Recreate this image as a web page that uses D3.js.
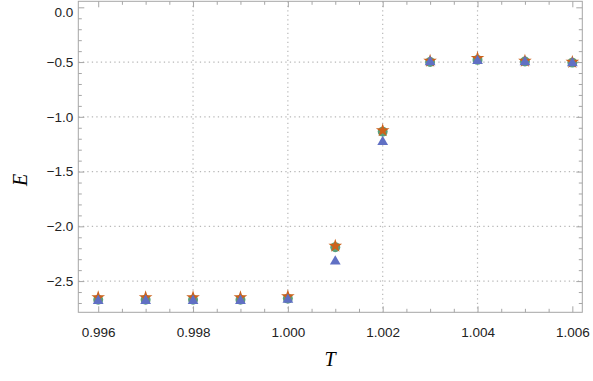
<!DOCTYPE html>
<html><head><meta charset="utf-8">
<script src="https://cdn.jsdelivr.net/npm/d3@7"></script>
<style>body{margin:0;background:#fff}svg{display:block}</style>
</head><body>
<svg id="c" width="593" height="381"></svg>
<script>
const temps = [0.996,0.997,0.998,0.999,1.000,1.001,1.002,1.003,1.004,1.005,1.006];
const circleE = [-2.67,-2.67,-2.67,-2.67,-2.66,-2.19,-1.135,-0.50,-0.48,-0.495,-0.505];
const starE   = [-2.65,-2.65,-2.65,-2.65,-2.64,-2.18,-1.125,-0.49,-0.465,-0.49,-0.50];
const triE    = [-2.68,-2.68,-2.68,-2.68,-2.67,-2.32,-1.23,-0.50,-0.49,-0.50,-0.51];
const xTicks = [0.996,0.998,1.000,1.002,1.004,1.006];
const yTicks = [0.0,-0.5,-1.0,-1.5,-2.0,-2.5];
const xGrid = [0.998,1.000,1.002,1.004];
const yGrid = [-0.5,-1.0,-1.5,-2.0,-2.5];

const svg = d3.select("#c");
const L=78.3,R=582.3,T=1.3,B=312.3;
const x = d3.scaleLinear().domain([0.99558,1.00621]).range([L,R]);
const y = d3.scaleLinear().domain([-2.785,0.055]).range([B,T]);

// grid
const g = svg.append("g");
g.selectAll(".gx").data(xGrid).enter().append("line")
 .attr("x1",d=>x(d)).attr("x2",d=>x(d)).attr("y1",T).attr("y2",B)
 .attr("stroke","#b8b8b8").attr("stroke-width",1.2).attr("stroke-dasharray","1.3,3.2");
g.selectAll(".gy").data(yGrid).enter().append("line")
 .attr("y1",d=>y(d)).attr("y2",d=>y(d)).attr("x1",L).attr("x2",R)
 .attr("stroke","#b8b8b8").attr("stroke-width",1.2).attr("stroke-dasharray","1.3,3.2");

// axes
const fc="#a6a6a6";
const xMinor = d3.range(0.9960,1.00601,0.0005).filter(v=>!xTicks.some(t=>Math.abs(t-v)<1e-7));
const yMinor = d3.range(0,-2.79,-0.1).filter(v=>!yTicks.some(t=>Math.abs(t-v)<1e-7));
function style(sel){sel.select(".domain").remove();sel.selectAll("line").attr("stroke",fc);}
const xb = svg.append("g").attr("transform",`translate(0,${B})`).call(d3.axisBottom(x).tickValues(xTicks).tickSizeInner(-6).tickSizeOuter(0).tickFormat(d3.format(".3f")));
style(xb);
xb.selectAll("text").attr("y",15).attr("font-family","Liberation Sans, Arial, sans-serif").attr("font-size",13.5).attr("fill","#222");
svg.append("g").attr("transform",`translate(0,${B})`).call(d3.axisBottom(x).tickValues(xMinor).tickSizeInner(-3.5).tickSizeOuter(0).tickFormat("")).call(style);
svg.append("g").attr("transform",`translate(0,${T})`).call(d3.axisTop(x).tickValues(xTicks).tickSizeInner(-6).tickSizeOuter(0).tickFormat("")).call(style);
svg.append("g").attr("transform",`translate(0,${T})`).call(d3.axisTop(x).tickValues(xMinor).tickSizeInner(-3.5).tickSizeOuter(0).tickFormat("")).call(style);
const fmtY = d=> (d<0?"\u2212":"")+Math.abs(d).toFixed(1);
const yl = svg.append("g").attr("transform",`translate(${L},0)`).call(d3.axisLeft(y).tickValues(yTicks).tickSizeInner(-6).tickSizeOuter(0).tickFormat(fmtY));
style(yl);
yl.selectAll("text").attr("x",-5).attr("font-family","Liberation Sans, Arial, sans-serif").attr("font-size",13.5).attr("fill","#222");
yl.selectAll(".tick").filter(d=>d===0).select("text").attr("dy","0.7em");
svg.append("g").attr("transform",`translate(${L},0)`).call(d3.axisLeft(y).tickValues(yMinor).tickSizeInner(-3.5).tickSizeOuter(0).tickFormat("")).call(style);
svg.append("g").attr("transform",`translate(${R},0)`).call(d3.axisRight(y).tickValues(yTicks).tickSizeInner(-6).tickSizeOuter(0).tickFormat("")).call(style);
svg.append("g").attr("transform",`translate(${R},0)`).call(d3.axisRight(y).tickValues(yMinor).tickSizeInner(-3.5).tickSizeOuter(0).tickFormat("")).call(style);
svg.append("rect").attr("x",L).attr("y",T).attr("width",R-L).attr("height",B-T).attr("fill","none").attr("stroke",fc).attr("stroke-width",1);

// markers
const series = [
 {vals:circleE, sym:d3.symbolCircle, size:78, color:"#58a07c"},
 {vals:starE, sym:d3.symbolStar, size:58, color:"#cc621c"},
 {vals:triE, sym:d3.symbolTriangle, size:50, color:"#6070c4"}
];
series.forEach(s=>{
  svg.append("g").selectAll("path").data(temps).enter().append("path")
   .attr("d",d3.symbol().type(s.sym).size(s.size))
   .attr("transform",(t,i)=>`translate(${x(t)},${y(s.vals[i])})`)
   .attr("fill",s.color);
});

// axis titles
svg.append("text").attr("x",330).attr("y",366).attr("text-anchor","middle")
 .attr("font-family","Liberation Serif, Times New Roman, serif").attr("font-style","italic").attr("font-size",20).text("T");
svg.append("text").attr("transform","translate(27,180) rotate(-90)").attr("text-anchor","middle")
 .attr("font-family","Liberation Serif, Times New Roman, serif").attr("font-style","italic").attr("font-size",20).text("E");
</script>
</body></html>
